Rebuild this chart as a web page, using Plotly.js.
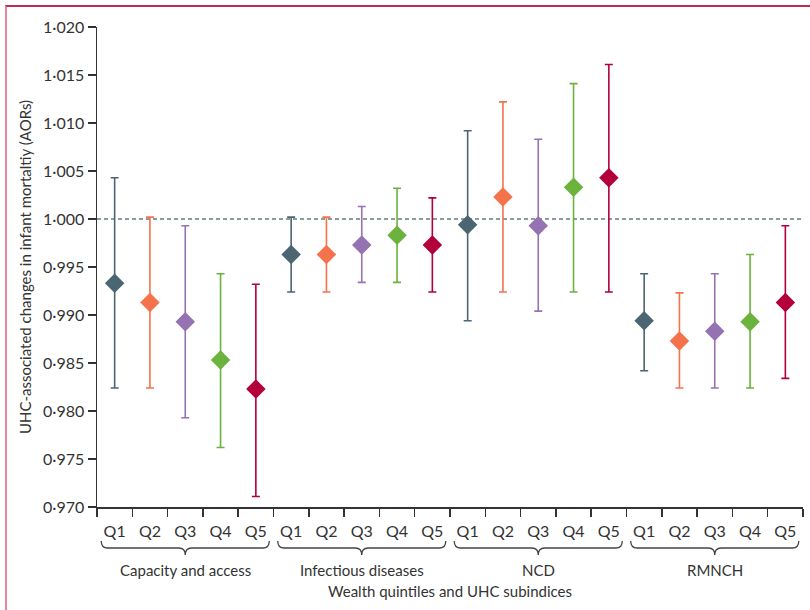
<!DOCTYPE html>
<html>
<head>
<meta charset="utf-8">
<script src="https://cdn.plot.ly/plotly-3.0.1.min.js"></script>
<style>
html,body{margin:0;padding:0;background:#fff;}
#frame{position:absolute;left:5px;top:5px;width:805px;height:605px;border-left:2px solid #e3869e;border-top:2px solid #be2a52;box-sizing:border-box;}
#chart{position:absolute;left:0;top:0;width:810px;height:610px;}
</style>
</head>
<body>
<div id="frame"></div>
<div id="chart"></div>
<script>
var groups = ['Capacity and access', 'Infectious diseases', 'NCD', 'RMNCH'];
var quintiles = ['Q1', 'Q2', 'Q3', 'Q4', 'Q5'];
var colors = ['#4b6672', '#f4734c', '#9572b1', '#6bb33d', '#b4003a'];

var aor_Q1 = [0.9933, 0.9963, 0.9994, 0.9894];
var low_Q1 = [0.9824, 0.9924, 0.9894, 0.9842];
var high_Q1 = [1.0043, 1.0002, 1.0092, 0.9943];

var aor_Q2 = [0.9913, 0.9963, 1.0023, 0.9873];
var low_Q2 = [0.9824, 0.9924, 0.9924, 0.9824];
var high_Q2 = [1.0002, 1.0002, 1.0122, 0.9923];

var aor_Q3 = [0.9893, 0.9973, 0.9993, 0.9883];
var low_Q3 = [0.9793, 0.9934, 0.9904, 0.9824];
var high_Q3 = [0.9993, 1.0013, 1.0083, 0.9943];

var aor_Q4 = [0.9853, 0.9983, 1.0033, 0.9893];
var low_Q4 = [0.9762, 0.9934, 0.9924, 0.9824];
var high_Q4 = [0.9943, 1.0032, 1.0141, 0.9963];

var aor_Q5 = [0.9823, 0.9973, 1.0043, 0.9913];
var low_Q5 = [0.9711, 0.9924, 0.9924, 0.9834];
var high_Q5 = [0.9932, 1.0022, 1.0161, 0.9993];

var yTickVals = [0.970, 0.975, 0.980, 0.985, 0.990, 0.995, 1.000, 1.005, 1.010, 1.015, 1.020];
var yTickText = ['0·970', '0·975', '0·980', '0·985', '0·990', '0·995', '1·000', '1·005', '1·010', '1·015', '1·020'];

var aors = [aor_Q1, aor_Q2, aor_Q3, aor_Q4, aor_Q5];
var lows = [low_Q1, low_Q2, low_Q3, low_Q4, low_Q5];
var highs = [high_Q1, high_Q2, high_Q3, high_Q4, high_Q5];

var FONT = 'Lato, "Open Sans", sans-serif';
var TXT = '#333333';

var traces = quintiles.map(function(q, qi) {
  var xs = groups.map(function(g, gi) { return gi * quintiles.length + qi; });
  var ys = aors[qi];
  return {
    type: 'scatter', mode: 'markers', name: q,
    x: xs, y: ys,
    marker: {symbol: 'diamond', size: 15, color: colors[qi]},
    error_y: {
      type: 'data', symmetric: false,
      array: ys.map(function(v, i) { return highs[qi][i] - v; }),
      arrayminus: ys.map(function(v, i) { return v - lows[qi][i]; }),
      color: colors[qi], thickness: 1.6, width: 4
    },
    showlegend: false, hoverinfo: 'x+y'
  };
});

var nCat = groups.length * quintiles.length;
var tickVals = [], tickText = [], minorVals = [];
for (var i = 0; i < nCat; i++) { tickVals.push(i); tickText.push(quintiles[i % quintiles.length]); }
for (var j = 0; j <= nCat; j++) minorVals.push(j - 0.5);

// pixel -> paper helper for layout decorations below the axis (plot: top 27, height 480)
function py(px) { return 1 - (px - 27) / 480; }

var shapes = [{
  type: 'line', xref: 'paper', yref: 'y', x0: 0, x1: 1, y0: 1.0, y1: 1.0,
  line: {color: '#8a9c9e', width: 2, dash: '4px,3px'}, layer: 'below'
}];
var annotations = [];
groups.forEach(function(g, gi) {
  var a = gi * 5 - 0.5 + 0.12, b = gi * 5 + 4.5 - 0.12, m = gi * 5 + 2;
  var yT = py(541), yM = py(548), yB = py(555);
  var c = 0.18;
  var path = 'M ' + a + ',' + yT +
    ' Q ' + a + ',' + yM + ' ' + (a + c) + ',' + yM +
    ' L ' + (m - c) + ',' + yM +
    ' Q ' + m + ',' + yM + ' ' + m + ',' + yB +
    ' Q ' + m + ',' + yM + ' ' + (m + c) + ',' + yM +
    ' L ' + (b - c) + ',' + yM +
    ' Q ' + b + ',' + yM + ' ' + b + ',' + yT;
  shapes.push({type: 'path', xref: 'x', yref: 'paper', path: path, line: {color: '#444', width: 1.3}});
  annotations.push({
    xref: 'x', yref: 'paper', x: m, y: py(570), text: g, showarrow: false,
    font: {family: FONT, size: 15, color: TXT}, xanchor: 'center', yanchor: 'middle'
  });
});

var layout = {
  width: 810, height: 610,
  margin: {l: 97, r: 7, t: 27, b: 103},
  paper_bgcolor: 'rgba(0,0,0,0)', plot_bgcolor: 'rgba(0,0,0,0)',
  font: {family: FONT, color: TXT, size: 15},
  xaxis: {
    range: [-0.5, nCat - 0.5], tickmode: 'array', tickvals: tickVals, ticktext: tickText,
    ticks: '', showgrid: false, zeroline: false, showline: true, linecolor: '#333', linewidth: 1.5,
    tickfont: {family: FONT, size: 16, color: TXT}, ticklabelstandoff: 9,
    minor: {tickmode: 'array', tickvals: minorVals, ticks: 'outside', ticklen: 8, tickwidth: 1.5, tickcolor: '#333', showgrid: false},
    title: {text: 'Wealth quintiles and UHC subindices', font: {family: FONT, size: 15, color: TXT}, standoff: 48}
  },
  yaxis: {
    range: [0.970, 1.020], tickmode: 'array', tickvals: yTickVals, ticktext: yTickText,
    ticks: 'outside', ticklen: 8, tickwidth: 1.5, tickcolor: '#333',
    showgrid: false, zeroline: false, showline: true, linecolor: '#333', linewidth: 1.5,
    tickfont: {family: FONT, size: 16, color: TXT},
    title: {text: 'UHC-associated changes in infant mortaltiy (AORs)', font: {family: FONT, size: 15, color: TXT}, standoff: 8}
  },
  shapes: shapes,
  annotations: annotations
};

Plotly.newPlot('chart', traces, layout, {displayModeBar: false, staticPlot: true});
</script>
</body>
</html>
